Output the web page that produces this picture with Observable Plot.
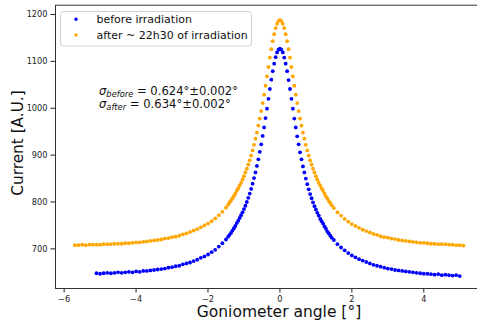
<!DOCTYPE html>
<html><head><meta charset="utf-8">
<script src="https://cdn.jsdelivr.net/npm/d3@7"></script>
<script src="https://cdn.jsdelivr.net/npm/@observablehq/plot@0.6"></script>
<style>
body{margin:0;background:#fff;overflow:hidden}
#chart{position:relative;width:477px;height:322px;overflow:hidden}
</style>
</head><body><div id="chart"></div>
<script>
// goniometer positions (deg)
const tailLeftX = [-5.7,-5.6,-5.5,-5.4,-5.3,-5.2,-5.1,-5.0,-4.9,-4.8,-4.7,-4.6,-4.5,-4.4,-4.3,-4.2,-4.1,-4.0,-3.9,-3.8,-3.7,-3.6,-3.5,-3.4,-3.3,-3.2,-3.1,-3.0,-2.9,-2.8,-2.7,-2.6,-2.5,-2.4,-2.3,-2.2,-2.1,-2.0,-1.9,-1.8,-1.7,-1.6,-1.5];
const coreX = [-1.44,-1.40,-1.36,-1.32,-1.28,-1.24,-1.20,-1.16,-1.12,-1.08,-1.04,-1.00,-0.96,-0.92,-0.88,-0.84,-0.80,-0.76,-0.72,-0.68,-0.64,-0.60,-0.56,-0.52,-0.48,-0.44,-0.40,-0.36,-0.32,-0.28,-0.24,-0.20,-0.16,-0.12,-0.08,-0.04,0,0.04,0.08,0.12,0.16,0.20,0.24,0.28,0.32,0.36,0.40,0.44,0.48,0.52,0.56,0.60,0.64,0.68,0.72,0.76,0.80,0.84,0.88,0.92,0.96,1.00,1.04,1.08,1.12,1.16,1.20,1.24,1.28,1.32,1.36,1.40,1.44];
const tailRightX = [1.5,1.6,1.7,1.8,1.9,2.0,2.1,2.2,2.3,2.4,2.5,2.6,2.7,2.8,2.9,3.0,3.1,3.2,3.3,3.4,3.5,3.6,3.7,3.8,3.9,4.0,4.1,4.2,4.3,4.4,4.5,4.6,4.7,4.8,4.9,5.0,5.1];

// current, before irradiation
const beforeLeft = [648,647,648,649,648,649,650,649,650,651,650,652,651,653,653,654,655,656,657,658,660,661,663,664,667,669,671,674,677,681,684,688,693,698,705,712,720];
const beforeCore = [726,730,734,739,744,749,755,760,766,772,778,785,792,800,809,818,828,839,851,863,877,891,907,923,941,959,979,999,1020,1041,1061,1079,1095,1109,1119,1125,1127,1125,1119,1108,1095,1079,1060,1041,1020,999,978,959,940,923,906,891,876,863,850,838,827,817,808,799,791,784,777,771,764,759,754,748,743,737,733,728,724];
const beforeRight = [719,710,703,697,691,686,682,678,675,672,669,666,664,662,660,658,657,655,654,653,652,651,650,649,648,647,647,646,645,646,644,645,644,643,644,642];

// current, after ~22h30 of irradiation
const afterLeft = [708,708,709,708,709,709,709,709,710,710,710,711,711,711,712,712,713,714,714,715,716,717,718,719,720,722,723,725,726,728,731,733,736,739,742,746,750,754,759,765,772,779,788];
const afterCore = [794,799,803,808,813,818,824,829,835,841,848,855,863,871,880,889,899,910,922,935,948,963,978,994,1011,1029,1048,1068,1088,1108,1126,1143,1158,1171,1180,1186,1188,1186,1180,1171,1158,1143,1126,1108,1088,1068,1048,1029,1011,994,978,963,948,935,922,910,899,889,880,871,863,855,848,841,835,829,824,818,812,807,802,798,793];
const afterRight = [787,778,771,764,758,753,749,745,741,738,735,732,730,727,725,724,722,721,719,718,717,716,715,714,713,713,712,711,711,710,710,710,709,709,708,708,707];

const xTicks = [-6,-4,-2,0,2,4];
const yTicks = [700,800,900,1000,1100,1200];
const seriesLabels = ["before irradiation", "after ~ 22h30 of irradiation"];
const sigmaBefore = "0.624°±0.002°";
const sigmaAfter = "0.634°±0.002°";
const xLabel = "Goniometer angle [°]";
const yLabel = "Current [A.U.]";

const toRows = (xs, ys) => ys.map((y, i) => ({x: xs[i], y}));
const before = [
  ...toRows(tailLeftX.slice(6), beforeLeft),
  ...toRows(coreX, beforeCore),
  ...toRows(tailRightX.slice(0, 36), beforeRight)
];
const after = [
  ...toRows(tailLeftX, afterLeft),
  ...toRows(coreX, afterCore),
  ...toRows(tailRightX, afterRight)
];

const XD = [-6.24, 5.66];
const YD = [615.5, 1219.8];
const BLUE = "#0000ff", ORANGE = "#ffa500";

const plot = Plot.plot({
  width: 477, height: 322,
  marginLeft: 55, marginRight: 0, marginTop: 5, marginBottom: 34,
  style: {fontFamily: "DejaVu Sans", fontSize: "8.2px", color: "#222", background: "#fff"},
  x: {domain: XD, range: [55, 483]},
  y: {domain: YD, range: [288, 4.7]},
  marks: [
    Plot.dot(before, {x: "x", y: "y", r: 1.9, fill: BLUE}),
    Plot.dot(after, {x: "x", y: "y", r: 1.9, fill: ORANGE}),
    Plot.axisY(yTicks, {tickSize: 4.5, tickPadding: 3.5, label: null, anchor: "left", tickFormat: d3.format("d")}),
    Plot.axisX(xTicks, {tickSize: 4.5, tickPadding: 3, label: null, anchor: "bottom"}),
    Plot.ruleX([XD[0]], {stroke: "#333", strokeWidth: 1}),
    Plot.ruleY([YD[0], YD[1]], {stroke: "#333", strokeWidth: 1})
  ]
});
document.getElementById("chart").appendChild(plot);

const svg = d3.select(plot);
const F = "DejaVu Sans";

// axis labels
svg.append("text").attr("transform", "translate(23,143) rotate(-90)")
  .attr("text-anchor", "middle").attr("font-family", F).attr("font-size", 15.3)
  .attr("fill", "#111").text(yLabel);
svg.append("text").attr("x", 279).attr("y", 316.5)
  .attr("text-anchor", "middle").attr("font-family", F).attr("font-size", 15.5)
  .attr("fill", "#111").text(xLabel);

// sigma annotation
function sigmaLine(y, sub, val) {
  const t = svg.append("text").attr("x", 99).attr("y", y).attr("text-anchor", "start")
    .attr("font-family", F).attr("font-size", 11.6).attr("fill", "#111");
  t.append("tspan").attr("font-style", "italic").text("σ");
  t.append("tspan").attr("font-style", "italic").attr("font-size", 8.3).attr("dy", 2.2).text(sub);
  t.append("tspan").attr("dy", -2.2).text(" = " + val);
}
sigmaLine(94.5, "before", sigmaBefore);
sigmaLine(107.5, "after", sigmaAfter);

// legend
const lg = svg.append("g");
lg.append("rect").attr("x", 60.5).attr("y", 11.5).attr("width", 191).attr("height", 34.5)
  .attr("rx", 3).attr("fill", "#fff").attr("fill-opacity", 0.8).attr("stroke", "#d0d0d0");
[[BLUE, 19.3, seriesLabels[0]], [ORANGE, 35, seriesLabels[1]]].forEach(([c, y, s]) => {
  lg.append("circle").attr("cx", 76).attr("cy", y).attr("r", 1.7).attr("fill", c);
  lg.append("text").attr("x", 96.5).attr("y", y + 3.9).attr("text-anchor", "start").attr("font-family", F)
    .attr("font-size", 11).attr("fill", "#111").text(s);
});
</script>
</body></html>
